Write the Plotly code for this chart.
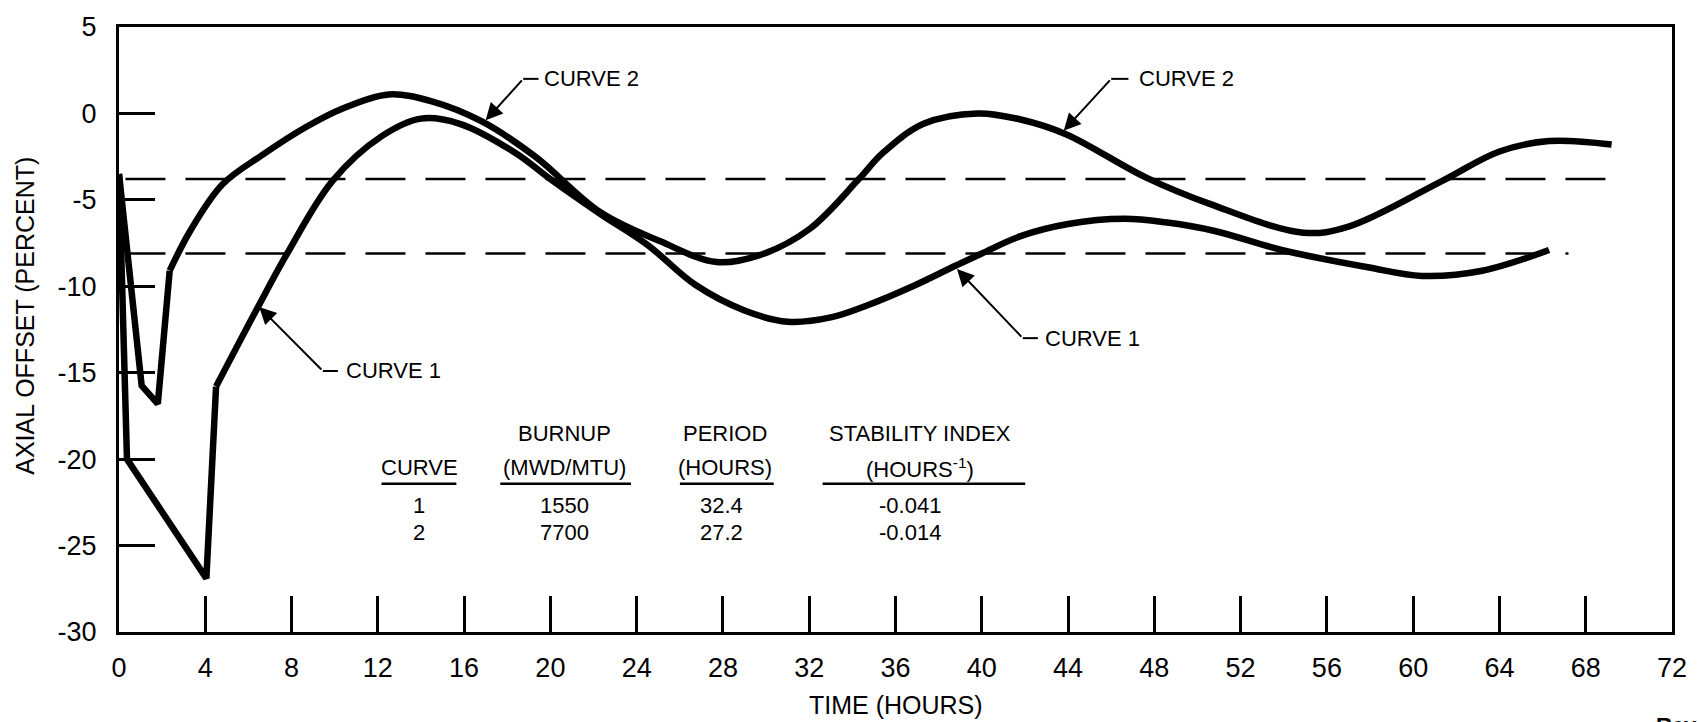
import plotly.graph_objects as go

# Axial offset response after a xenon perturbation (hours, percent)
curve1_hours = [0.0, 0.37, 4.05, 4.5,
                6.4, 7.8, 9.9, 12.2, 14.0, 15.8, 18.4, 20.0, 22.3, 24.5, 26.7,
                29.0, 31.0, 33.0, 34.7, 36.8, 38.8, 40.0, 41.8, 44.0, 46.6,
                48.5, 50.8, 53.9, 57.9, 60.4, 63.2, 66.3]
curve1_offset = [-3.5, -20.0, -26.9, -15.8,
                 -11.3, -8.1, -3.9, -1.3, -0.3, -0.6, -2.3, -3.8, -5.8, -7.6, -9.9,
                 -11.4, -12.05, -11.8, -11.1, -10.0, -8.8, -8.1, -7.1, -6.4, -6.1,
                 -6.3, -6.8, -7.9, -8.9, -9.4, -9.1, -7.9]
curve1_kink = 3   # end of the piecewise-linear initial transient

curve2_hours = [0.0, 1.05, 1.8, 2.35,
                3.3, 4.8, 6.65, 8.65, 10.4, 12.5, 14.5, 16.8, 19.3, 22.3,
                25.1, 27.7, 29.7, 32.0, 34.3, 35.4, 37.3, 39.8, 41.8, 43.9,
                47.6, 50.6, 54.9, 57.0, 61.35, 64.0, 66.3, 69.2]
curve2_offset = [-3.5, -15.75, -16.8, -9.1,
                 -6.8, -4.1, -2.4, -0.8, 0.3, 1.1, 0.7, -0.45, -2.5, -5.7,
                 -7.4, -8.6, -8.2, -6.7, -3.8, -2.3, -0.6, 0.0, -0.35, -1.2,
                 -3.7, -5.25, -6.9, -6.55, -3.9, -2.2, -1.6, -1.8]
curve2_kink = 3

# Equilibrium offset levels (dashed)
band_levels = [-3.8, -8.1]
band_start = [0.3, 0.3]
band_end = [69.0, 67.2]

x_ticks = list(range(0, 73, 4))
y_ticks = [5, 0, -5, -10, -15, -20, -25, -30]
y_ticklabels = ["5", "0", "-5", "-10", "-15", "-20", "-25", "-30"]

table_head_top = ["", "BURNUP", "PERIOD", "STABILITY INDEX"]
table_head_bottom = ["CURVE", "(MWD/MTU)", "(HOURS)", "(HOURS<sup>-1</sup>)"]
table_rows = [["1", "1550", "32.4", "-0.041"],
              ["2", "7700", "27.2", "-0.014"]]

FONT = "Liberation Sans, Arial, sans-serif"
W, H = 1699, 722
PL, PR, PT, PB = 119, 1675, 24, 632


def px(x):
    return (x - PL) / (PR - PL)


def py(y):
    return (PB - y) / (PB - PT)


fig = go.Figure()

line_style = dict(color="black", width=6.5)
for hrs, off, k in ((curve1_hours, curve1_offset, curve1_kink),
                    (curve2_hours, curve2_offset, curve2_kink)):
    fig.add_trace(go.Scatter(x=hrs[:k + 1], y=off[:k + 1], mode="lines",
                             line=dict(shape="linear", **line_style),
                             hoverinfo="skip", showlegend=False))
    fig.add_trace(go.Scatter(x=hrs[k:], y=off[k:], mode="lines",
                             line=dict(shape="spline", smoothing=1.0, **line_style),
                             hoverinfo="skip", showlegend=False))

for lvl, x0, x1 in zip(band_levels, band_start, band_end):
    fig.add_trace(go.Scatter(x=[x0, x1], y=[lvl, lvl], mode="lines",
                             line=dict(color="black", width=2.5, dash="40px,20px"),
                             hoverinfo="skip", showlegend=False))

axis_common = dict(
    showgrid=False, zeroline=False, showline=True, linewidth=3,
    linecolor="black", mirror=True, ticks="inside", ticklen=36,
    tickwidth=2.5, tickcolor="black",
    tickfont=dict(family=FONT, size=27, color="black"),
)
fig.update_xaxes(range=[0, 72], tickvals=x_ticks,
                 ticktext=[str(v) for v in x_ticks],
                 ticklabelstandoff=10, **axis_common)
fig.update_yaxes(range=[-30, 5], tickvals=y_ticks, ticktext=y_ticklabels,
                 ticklabelstandoff=14, **axis_common)

annotations = []
shapes = []

# Curve call-outs: (arrow tip, elbow, end of horizontal leader, label position, text)
callouts = [
    ((17.0, -0.4), (18.74, 2.0), (19.45, 2.0), (19.6, 2.0), "CURVE 2"),
    ((43.8, -1.0), (46.0, 2.0), (46.8, 2.0), (47.2, 2.0), "CURVE 2"),
    ((6.5, -11.2), (9.45, -14.9), (10.15, -14.9), (10.45, -14.9), "CURVE 1"),
    ((38.85, -9.0), (41.9, -13.0), (42.6, -13.0), (42.85, -13.0), "CURVE 1"),
]
for tip, elbow, hend, lab, txt in callouts:
    annotations.append(dict(
        x=tip[0], y=tip[1], ax=elbow[0], ay=elbow[1], xref="x", yref="y",
        axref="x", ayref="y", text="", showarrow=True, arrowhead=2,
        arrowsize=1.7, arrowwidth=2, arrowcolor="black", standoff=0))
    shapes.append(dict(type="line", xref="x", yref="y", x0=elbow[0], y0=elbow[1],
                       x1=hend[0], y1=hend[1], line=dict(color="black", width=2)))
    annotations.append(dict(x=lab[0], y=lab[1], xref="x", yref="y", text=txt,
                            showarrow=False, xanchor="left", yanchor="middle",
                            font=dict(family=FONT, size=22, color="black")))

# Parameter table
col_x = [420, 565, 726, 922]
val_x = [420, 565, 723, 912]
rule_spans = [(382, 457), (501, 632), (681, 775), (824, 1027)]
tfont = dict(family=FONT, size=22, color="black")
for cx, top, bottom in zip(col_x, table_head_top, table_head_bottom):
    if top:
        annotations.append(dict(x=px(cx), y=py(433), xref="paper", yref="paper",
                                text=top, showarrow=False, xanchor="center",
                                yanchor="middle", font=tfont))
    annotations.append(dict(x=px(cx), y=py(467), xref="paper", yref="paper",
                            text=bottom, showarrow=False, xanchor="center",
                            yanchor="middle", font=tfont))
for x0, x1 in rule_spans:
    shapes.append(dict(type="line", xref="paper", yref="paper",
                       x0=px(x0), x1=px(x1), y0=py(483), y1=py(483),
                       line=dict(color="black", width=2.5)))
for row, ry in zip(table_rows, [505, 532]):
    for cx, val in zip(val_x, row):
        annotations.append(dict(x=px(cx), y=py(ry), xref="paper", yref="paper",
                                text=val, showarrow=False, xanchor="center",
                                yanchor="middle", font=tfont))

# Axis titles
annotations.append(dict(x=px(898), y=py(705), xref="paper", yref="paper",
                        text="TIME (HOURS)", showarrow=False, xanchor="center",
                        yanchor="middle",
                        font=dict(family=FONT, size=25, color="black")))
annotations.append(dict(x=px(24), y=py(314), xref="paper", yref="paper",
                        text="AXIAL OFFSET (PERCENT)", showarrow=False,
                        textangle=-90, xanchor="center", yanchor="middle",
                        font=dict(family=FONT, size=25, color="black")))
annotations.append(dict(x=px(1657), y=py(711), xref="paper", yref="paper",
                        text="<b>Rev</b>", showarrow=False, xanchor="left",
                        yanchor="top",
                        font=dict(family=FONT, size=22, color="black")))

fig.update_layout(
    width=W, height=H,
    margin=dict(l=PL, r=W - PR, t=PT, b=H - PB),
    paper_bgcolor="white", plot_bgcolor="white",
    annotations=annotations, shapes=shapes,
    showlegend=False,
)

fig.write_html("out.html")
